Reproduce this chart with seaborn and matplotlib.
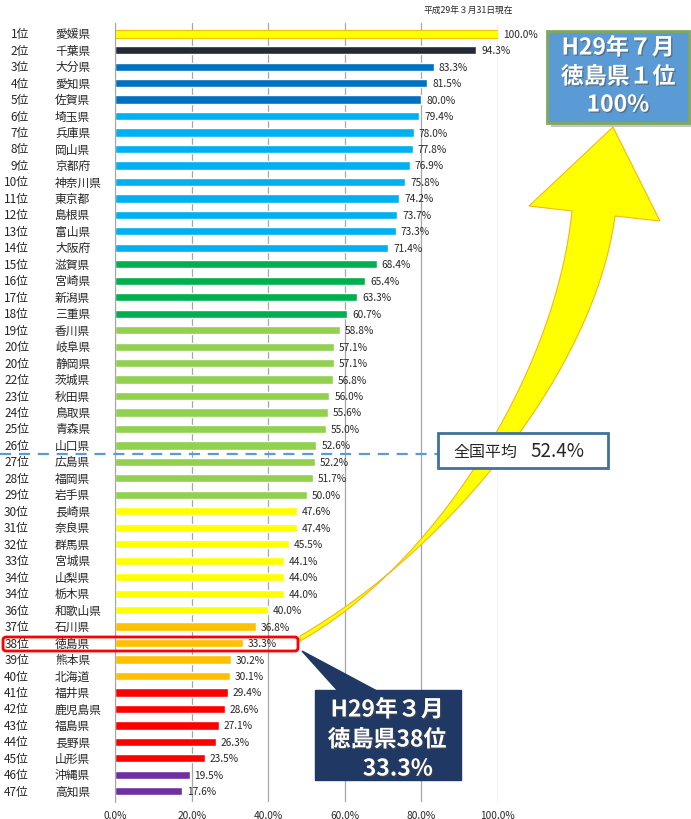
import numpy as np
import pandas as pd
import matplotlib
matplotlib.use("Agg")
import matplotlib.pyplot as plt
import matplotlib.transforms as mtransforms
import matplotlib.patheffects as pe
from matplotlib.path import Path
from matplotlib.patches import PathPatch, Rectangle, Polygon, FancyBboxPatch
import seaborn as sns

# data (平成29年3月31日現在)
ranks = ["1位", "2位", "3位", "4位", "5位", "6位", "7位", "8位", "9位", "10位",
         "11位", "12位", "13位", "14位", "15位", "16位", "17位", "18位", "19位", "20位",
         "20位", "22位", "23位", "24位", "25位", "26位", "27位", "28位", "29位", "30位",
         "31位", "32位", "33位", "34位", "34位", "36位", "37位", "38位", "39位", "40位",
         "41位", "42位", "43位", "44位", "45位", "46位", "47位"]
prefectures = ["愛媛県", "千葉県", "大分県", "愛知県", "佐賀県", "埼玉県", "兵庫県", "岡山県",
               "京都府", "神奈川県", "東京都", "島根県", "富山県", "大阪府", "滋賀県", "宮崎県",
               "新潟県", "三重県", "香川県", "岐阜県", "静岡県", "茨城県", "秋田県", "鳥取県",
               "青森県", "山口県", "広島県", "福岡県", "岩手県", "長崎県", "奈良県", "群馬県",
               "宮城県", "山梨県", "栃木県", "和歌山県", "石川県", "徳島県", "熊本県", "北海道",
               "福井県", "鹿児島県", "福島県", "長野県", "山形県", "沖縄県", "高知県"]
rates = [100.0, 94.3, 83.3, 81.5, 80.0, 79.4, 78.0, 77.8, 76.9, 75.8,
         74.2, 73.7, 73.3, 71.4, 68.4, 65.4, 63.3, 60.7, 58.8, 57.1,
         57.1, 56.8, 56.0, 55.6, 55.0, 52.6, 52.2, 51.7, 50.0, 47.6,
         47.4, 45.5, 44.1, 44.0, 44.0, 40.0, 36.8, 33.3, 30.2, 30.1,
         29.4, 28.6, 27.1, 26.3, 23.5, 19.5, 17.6]
tiers = (["top"] + ["second"] + ["blue"] * 3 + ["lightblue"] * 9 + ["green"] * 4
         + ["lightgreen"] * 11 + ["yellow"] * 7 + ["orange"] * 4 + ["red"] * 5
         + ["purple"] * 2)
tier_colors = {"top": "#FFFF00", "second": "#222A35", "blue": "#0070C0",
               "lightblue": "#00B0F0", "green": "#00B050", "lightgreen": "#92D050",
               "yellow": "#FFFF00", "orange": "#FFC000", "red": "#FF0000",
               "purple": "#7030A0"}
national_avg = 52.4
x_ticks = [0, 20, 40, 60, 80, 100]
x_tick_labels = ["0.0%", "20.0%", "40.0%", "60.0%", "80.0%", "100.0%"]

df = pd.DataFrame({"rank": ranks, "pref": prefectures, "rate": rates, "tier": tiers})

sns.set_style("white")
plt.rcParams["font.family"] = ["Noto Sans CJK JP", "DejaVu Sans"]

W, H = 691, 820
fig = plt.figure(figsize=(W / 100, H / 100), dpi=100)
ax = fig.add_axes([115 / W, 1 - 803 / H, (498 - 115) / W, (803 - 24) / H])

sns.barplot(data=df, x="rate", y="pref", hue="tier", palette=tier_colors,
            order=prefectures, dodge=False, width=0.5, saturation=1,
            legend=False, ax=ax)
# the top bar has a gold outline
for bar in ax.patches:
    if bar.get_width() == max(rates):
        bar.set_edgecolor("#F2C200")
        bar.set_linewidth(0.8)

ax.set_xlim(0, 100)
ax.set_ylim(46.65, -0.65)
ax.set_xlabel("")
ax.set_ylabel("")
ax.set_axisbelow(True)
ax.xaxis.grid(True, color="#A6A6A6", lw=0.9)
ax.set_xticks(x_ticks)
ax.set_xticklabels(x_tick_labels, fontsize=7.3)
ax.tick_params(axis="x", length=0, pad=6)
ax.set_yticks(np.arange(-0.5, len(rates), 1))
ax.set_yticklabels([])
ax.tick_params(axis="y", length=4, color="#A6A6A6", width=0.9)
for s in ["top", "right", "bottom"]:
    ax.spines[s].set_visible(False)
ax.spines["left"].set_color("#A6A6A6")

# rank / prefecture labels and value labels
lab_tr = mtransforms.blended_transform_factory(fig.transFigure, ax.transData)
for i, (rk, pf, v) in enumerate(zip(ranks, prefectures, rates)):
    ax.text(29 / W, i, rk, transform=lab_tr, ha="right", va="center", fontsize=8.5)
    ax.text(55 / W, i, pf, transform=lab_tr, ha="left", va="center", fontsize=8.5)
    ax.annotate(f"{v:.1f}%", (v, i), xytext=(3.5, 0), textcoords="offset points",
                ha="left", va="center", fontsize=7.3, annotation_clip=False)

# national average dashed line, placed between the two ranks it falls between
avg_y = 25 + (rates[25] - national_avg) / (rates[25] - rates[26])
ax.plot([0, 438 / W], [avg_y, avg_y], transform=lab_tr, color="#5B9BD5",
        lw=1.6, ls=(0, (5, 3.5)), clip_on=False, zorder=5)

# overlay in pixel coordinates for callouts
ov = fig.add_axes([0, 0, 1, 1], zorder=10)
ov.set_xlim(0, W)
ov.set_ylim(H, 0)
ov.axis("off")

ov.text(468, 10, "平成29年３月31日現在", ha="center", va="center", fontsize=6.3)

# big yellow curved arrow
verts = [(300, 637), (450, 550), (595, 370), (615, 217),
         (660, 222), (613, 128), (529, 207), (572, 212),
         (555, 380), (430, 570), (300, 642), (300, 637)]
codes = [Path.MOVETO, Path.CURVE4, Path.CURVE4, Path.CURVE4,
         Path.LINETO, Path.LINETO, Path.LINETO, Path.LINETO,
         Path.CURVE4, Path.CURVE4, Path.CURVE4, Path.CLOSEPOLY]
ov.add_patch(PathPatch(Path(verts, codes), fc="#FFFF00", ec="#F2B81C", lw=0.8, zorder=1))

# national average box
ov.add_patch(Rectangle((438, 434), 170, 35, fc="white", ec="#41719C", lw=2, zorder=3))
ov.text(453, 452, "全国平均", ha="left", va="center", fontsize=11.5, zorder=4)
ov.text(530, 452, "52.4%", ha="left", va="center", fontsize=13.5, zorder=4)

# red highlight around 徳島県
ov.add_patch(FancyBboxPatch((3, 638), 295, 14, boxstyle="round,pad=0,rounding_size=3",
                            fc="none", ec="#FF0000", lw=2, zorder=4))

# navy callout (March)
navy = "#203864"
ov.add_patch(Polygon([(302, 652), (338, 692), (377, 692)], closed=True, fc=navy, ec=navy, zorder=3))
ov.add_patch(Rectangle((315, 691), 146, 90, fc=navy, ec=navy, zorder=3))
shadow = [pe.SimplePatchShadow(offset=(1, -1), alpha=0.5), pe.Normal()]
for y, t, x in [(711, "H29年３月", 387), (741, "徳島県38位", 387), (770, "33.3%", 398)]:
    ov.text(x, y, t, ha="center", va="center", fontsize=16.5, color="white",
            fontweight="bold", zorder=5, path_effects=shadow)

# blue box (July)
ov.add_patch(Rectangle((551, 36), 142, 92, fc="#7F7F7F", ec="none", alpha=0.45, zorder=3))
ov.add_patch(Rectangle((547, 32), 142, 92, fc="#5B9BD5", ec="#83A85A", lw=2, zorder=4))
for y, t in [(49, "H29年７月"), (78, "徳島県１位"), (106, "100%")]:
    ov.text(618, y, t, ha="center", va="center", fontsize=16.5, color="white",
            fontweight="bold", zorder=5, path_effects=shadow)

fig.savefig("out.png", dpi=100)
